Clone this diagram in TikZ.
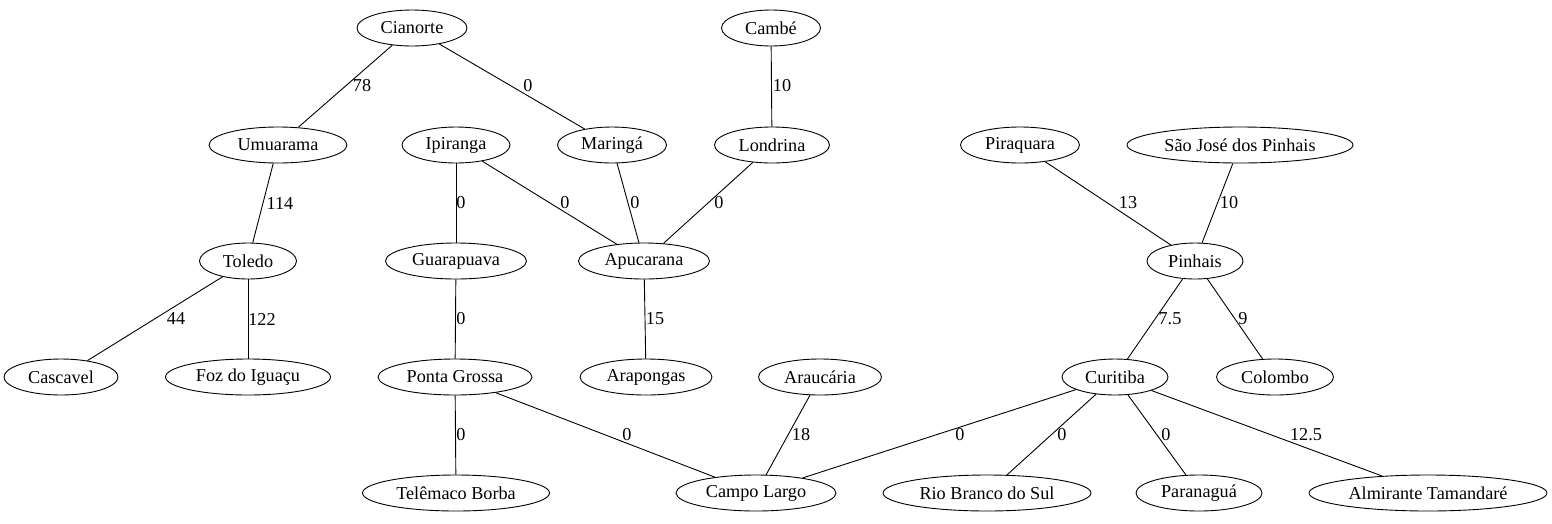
\documentclass[tikz,border=0pt]{standalone}
\usepackage{fontspec}
\setmainfont{Liberation Serif}
\usepackage{tikz}
\usetikzlibrary{shapes.geometric}

\tikzset{
    city/.style={draw, ellipse, line width=0.9pt, inner sep=0pt, minimum height=36},
    wlab/.style={inner sep=0pt}
}

\begin{document}
\begin{tikzpicture}[x=1pt, y=-1pt, line width=0.9pt, font=\fontsize{18.2}{20}\selectfont]
            \useasboundingbox (0,0) rectangle (1552,523);
            % rank 1
            \node[city, minimum width=110] (cia) at (412,28) {Cianorte};
            \node[city, minimum width=99]  (cmb) at (771,28) {Cambé};
            % rank 2
            \node[city, minimum width=138] (umu) at (278,145) {Umuarama};
            \node[city, minimum width=108] (ipi) at (456,145) {Ipiranga};
            \node[city, minimum width=109] (mar) at (612,145) {Maringá};
            \node[city, minimum width=115] (lon) at (772,145) {Londrina};
            \node[city, minimum width=119] (pir) at (1020,145) {Piraquara};
            \node[city, minimum width=226] (sjp) at (1240,145) {São José dos Pinhais};
            % rank 3
            \node[city, minimum width=97]  (tol) at (248,261) {Toledo};
            \node[city, minimum width=141] (gua) at (456,261) {Guarapuava};
            \node[city, minimum width=131] (apu) at (644,261) {Apucarana};
            \node[city, minimum width=96]  (pin) at (1195,261) {Pinhais};
            % rank 4
            \node[city, minimum width=114] (cas) at (61,377) {Cascavel};
            \node[city, minimum width=165] (foz) at (248,377) {Foz do Iguaçu};
            \node[city, minimum width=154] (pgr) at (455,377) {Ponta Grossa};
            \node[city, minimum width=132] (arp) at (646,377) {Arapongas};
            \node[city, minimum width=123] (arc) at (820,377) {Araucária};
            \node[city, minimum width=106] (cur) at (1115,377) {Curitiba};
            \node[city, minimum width=117] (col) at (1275,377) {Colombo};
            % rank 5
            \node[city, minimum width=187] (tel) at (456,493) {Telêmaco Borba};
            \node[city, minimum width=160] (cla) at (756,493) {Campo Largo};
            \node[city, minimum width=208] (rbs) at (987,493) {Rio Branco do Sul};
            \node[city, minimum width=126] (par) at (1199,493) {Paranaguá};
            \node[city, minimum width=238] (alm) at (1428,493) {Almirante Tamandaré};
            % edges with weights
            \foreach \a/\b/\w/\lx/\ly in {cia/umu/78/362/86, cia/mar/0/528/86, cmb/lon/10/782/86,
                    umu/tol/114/280/203, ipi/gua/0/461/203, ipi/apu/0/565/203, mar/apu/0/635/203,
                    lon/apu/0/719/203, pir/pin/13/1128/203, sjp/pin/10/1229/203,
                    tol/cas/44/176/319, tol/foz/122/262/319, gua/pgr/0/461/319, apu/arp/15/655/319,
                    pin/cur/7.5/1170/319, pin/col/9/1243/319,
                    pgr/tel/0/461/435, pgr/cla/0/627/435, arc/cla/18/801/435, cur/cla/0/960/435,
                    cur/rbs/0/1062/435, cur/par/0/1166/435, cur/alm/12.5/1306/435} {
                    \draw (\a) -- (\b);
                    \node[wlab] at (\lx,\ly) {\w};
                }
        \end{tikzpicture}
\end{document}
